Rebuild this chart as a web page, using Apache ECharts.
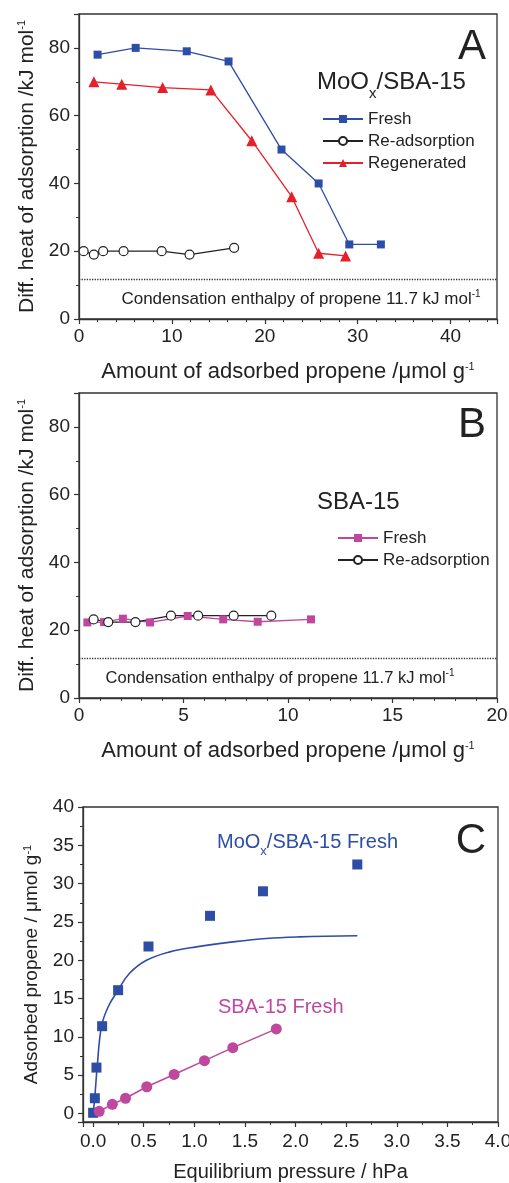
<!DOCTYPE html>
<html>
<head>
<meta charset="utf-8">
<script src="https://cdn.jsdelivr.net/npm/echarts@6/dist/echarts.min.js"></script>
<style>
html, body { margin: 0; padding: 0; background: #fff; }
#chart { width: 509px; height: 1183px; }
</style>
</head>
<body>
<div id="chart"></div>
<script>
// panel A: MoOx/SBA-15 heats of adsorption
var freshA_x = [2.0, 6.1, 11.6, 16.1, 21.8, 25.8, 29.1, 32.5];
var freshA_y = [78, 80, 79, 76, 50, 40, 22, 22];
var readsA_x = [0.5, 1.6, 2.6, 4.8, 8.9, 11.9, 16.7];
var readsA_y = [20, 19, 20, 20, 20, 19, 21];
var regenA_x = [1.6, 4.6, 9.0, 14.2, 18.6, 22.9, 25.8, 28.7];
var regenA_y = [70, 69.3, 68.3, 67.6, 52.6, 36.1, 19.4, 18.6];

// panel B: SBA-15
var freshB_x = [0.4, 1.2, 2.1, 3.4, 5.2, 6.9, 8.55, 11.1];
var freshB_y = [22.3, 22.4, 23.4, 22.3, 24.2, 23.2, 22.5, 23.2];
var readsB_x = [0.7, 1.4, 2.7, 4.4, 5.7, 7.4, 9.2];
var readsB_y = [23.2, 22.4, 22.4, 24.3, 24.3, 24.3, 24.3];

// condensation enthalpy of propene
var condH = 11.7;

// panel C: isotherms
var moC_p = [0.0, 0.017, 0.033, 0.089, 0.247, 0.547, 1.155, 1.678, 2.61];
var moC_q = [0.1, 2.0, 6.0, 11.4, 16.1, 21.8, 25.8, 29.0, 32.5];
var fitC_p = [0, 0.017, 0.04, 0.083, 0.148, 0.247, 0.36, 0.527, 0.757, 1.02, 1.38, 1.71, 2.04, 2.61];
var fitC_q = [0, 2.2, 6.1, 11.4, 13.9, 16.1, 18.3, 20.0, 21.1, 21.75, 22.4, 22.85, 23.05, 23.2];
var sbaC_p = [0.06, 0.19, 0.32, 0.53, 0.80, 1.10, 1.38, 1.81];
var sbaC_q = [0.3, 1.2, 2.0, 3.5, 5.1, 6.9, 8.6, 11.05];

var FONT = '"Liberation Sans", Arial, Helvetica, sans-serif';
var BLUE = '#2E4DA6', RED = '#E5202B', MAG = '#C0479E', INK = '#222';

function zip(xs, ys) {
    return xs.map(function (x, i) { return [x, ys[i]]; });
}

var chart = echarts.init(document.getElementById('chart'));

var axisLine = { show: true, onZero: false, lineStyle: { color: '#333', width: 1.3 } };
var axisTick = { show: true, inside: false, length: 5, lineStyle: { color: '#333', width: 1.2 } };
var minorTick = { show: true, length: 3, lineStyle: { color: '#333', width: 1 } };
var supRich = { sup: { fontSize: 11, verticalAlign: 'top', fontFamily: FONT, color: INK } };

function xAx(grid, opt) {
    return Object.assign({
        type: 'value', gridIndex: grid, splitLine: { show: false },
        axisLine: axisLine, axisTick: axisTick, minorTick: minorTick,
        axisLabel: { color: INK, fontSize: 19, fontFamily: FONT, margin: 8, showMaxLabel: false },
        nameLocation: 'middle', nameGap: 40,
        nameTextStyle: { color: INK, fontSize: 22, fontFamily: FONT, rich: supRich }
    }, opt);
}
function yAx(grid, opt) {
    return Object.assign({
        type: 'value', gridIndex: grid, splitLine: { show: false },
        axisLine: axisLine, axisTick: axisTick, minorTick: minorTick,
        axisLabel: { color: INK, fontSize: 19, fontFamily: FONT, margin: 9 },
        nameLocation: 'middle', nameGap: 38,
        nameTextStyle: { color: INK, fontSize: 21, fontFamily: FONT, rich: supRich }
    }, opt);
}

// outerBoundsMode none: keep grids exactly where the reference has them
var gridBox = { show: true, borderColor: '#333', borderWidth: 1.3, backgroundColor: 'transparent', outerBoundsMode: 'none' };

var condLine = {
    silent: true, symbol: 'none',
    lineStyle: { type: 'dotted', color: '#333', width: 1.3 },
    label: { show: false },
    data: [{ yAxis: condH }]
};

function txt(x, y, text, size, color, extra) {
    return {
        type: 'text', silent: true,
        style: Object.assign({
            x: x, y: y, text: text, fill: color || INK,
            font: size + 'px ' + FONT, verticalAlign: 'middle', align: 'left'
        }, extra || {})
    };
}

var option = {
    animation: false,
    textStyle: { fontFamily: FONT },
    grid: [
        Object.assign({ left: 79, top: 14, width: 418, height: 305 }, gridBox),
        Object.assign({ left: 79, top: 393, width: 418, height: 305 }, gridBox),
        Object.assign({ left: 83, top: 807, width: 415, height: 315 }, gridBox)
    ],
    xAxis: [
        xAx(0, { min: 0, max: 45, interval: 10, minorTick: Object.assign({ splitNumber: 5 }, minorTick),
            name: 'Amount of adsorbed propene /\u03bcmol g{sup|-1}', nameGap: 42 }),
        xAx(1, { min: 0, max: 20, interval: 5, minorTick: Object.assign({ splitNumber: 5 }, minorTick),
            axisLabel: { color: INK, fontSize: 19, fontFamily: FONT, margin: 8, showMaxLabel: true },
            name: 'Amount of adsorbed propene /\u03bcmol g{sup|-1}', nameGap: 42 }),
        xAx(2, { min: -0.1, max: 4, splitNumber: 8, minorTick: Object.assign({ splitNumber: 2 }, minorTick),
            axisLabel: { color: INK, fontSize: 19, fontFamily: FONT, margin: 10, showMinLabel: false, showMaxLabel: true,
                formatter: function (v) { return v < 0 ? '' : v.toFixed(1); } },
            name: 'Equilibrium pressure / hPa', nameGap: 40,
            nameTextStyle: { color: INK, fontSize: 20, fontFamily: FONT } })
    ],
    yAxis: [
        yAx(0, { min: 0, max: 90, interval: 20, minorTick: Object.assign({ splitNumber: 2 }, minorTick),
            axisLabel: { color: INK, fontSize: 19, fontFamily: FONT, margin: 9, showMaxLabel: false },
            name: 'Diff. heat of adsorption /kJ mol{sup|-1}' }),
        yAx(1, { min: 0, max: 90, interval: 20, minorTick: Object.assign({ splitNumber: 2 }, minorTick),
            axisLabel: { color: INK, fontSize: 19, fontFamily: FONT, margin: 9, showMaxLabel: false },
            name: 'Diff. heat of adsorption /kJ mol{sup|-1}' }),
        yAx(2, { min: -1.1, max: 40, splitNumber: 8, minorTick: Object.assign({ splitNumber: 2 }, minorTick),
            axisLabel: { color: INK, fontSize: 19, fontFamily: FONT, margin: 9, showMinLabel: false,
                formatter: function (v) { return Math.abs(v % 5) < 1e-6 ? String(v) : ''; } },
            name: 'Adsorbed propene / \u03bcmol g{sup|-1}', nameGap: 42,
            nameTextStyle: { color: INK, fontSize: 19, fontFamily: FONT, rich: supRich } })
    ],
    legend: [
        {
            left: 317, top: 105, orient: 'vertical', itemWidth: 40, itemHeight: 10, itemGap: 4,
            textStyle: { fontSize: 17, color: INK, fontFamily: FONT, lineHeight: 18 },
            data: ['A Fresh', 'A Re-adsorption', 'A Regenerated'],
            formatter: function (n) { return n.slice(2); }
        },
        {
            left: 332, top: 524, orient: 'vertical', itemWidth: 40, itemHeight: 10, itemGap: 4,
            textStyle: { fontSize: 17, color: INK, fontFamily: FONT, lineHeight: 18 },
            data: ['B Fresh', 'B Re-adsorption'],
            formatter: function (n) { return n.slice(2); }
        }
    ],
    series: [
        {
            name: 'A Re-adsorption', type: 'line', xAxisIndex: 0, yAxisIndex: 0,
            data: zip(readsA_x, readsA_y), symbol: 'circle', symbolSize: 9,
            itemStyle: { color: '#fff', borderColor: INK, borderWidth: 1.2 },
            lineStyle: { color: INK, width: 1.3 },
            markLine: condLine
        },
        {
            name: 'A Regenerated', type: 'line', xAxisIndex: 0, yAxisIndex: 0,
            data: zip(regenA_x, regenA_y), symbol: 'triangle', symbolSize: 11,
            itemStyle: { color: RED }, lineStyle: { color: RED, width: 1.3 }
        },
        {
            name: 'A Fresh', type: 'line', xAxisIndex: 0, yAxisIndex: 0,
            data: zip(freshA_x, freshA_y), symbol: 'rect', symbolSize: 8,
            itemStyle: { color: BLUE }, lineStyle: { color: BLUE, width: 1.3 }
        },
        {
            name: 'B Fresh', type: 'line', xAxisIndex: 1, yAxisIndex: 1,
            data: zip(freshB_x, freshB_y), symbol: 'rect', symbolSize: 8,
            itemStyle: { color: MAG }, lineStyle: { color: MAG, width: 1.3 },
            markLine: condLine
        },
        {
            name: 'B Re-adsorption', type: 'line', xAxisIndex: 1, yAxisIndex: 1,
            data: zip(readsB_x, readsB_y), symbol: 'circle', symbolSize: 9,
            itemStyle: { color: '#fff', borderColor: INK, borderWidth: 1.2 },
            lineStyle: { color: INK, width: 1.3 }
        },
        {
            name: 'MoOx fit', type: 'line', xAxisIndex: 2, yAxisIndex: 2,
            data: zip(fitC_p, fitC_q), showSymbol: false, smooth: 0.4,
            lineStyle: { color: BLUE, width: 1.6 }
        },
        {
            name: 'MoOx fresh', type: 'scatter', xAxisIndex: 2, yAxisIndex: 2,
            data: zip(moC_p, moC_q), symbol: 'rect', symbolSize: 10,
            itemStyle: { color: BLUE, opacity: 1 }
        },
        {
            name: 'SBA fresh', type: 'line', xAxisIndex: 2, yAxisIndex: 2,
            data: zip(sbaC_p, sbaC_q), symbol: 'circle', symbolSize: 11,
            itemStyle: { color: MAG }, lineStyle: { color: MAG, width: 1.5 }
        }
    ],
    graphic: [
        txt(472, 47, 'A', 42, INK, { align: 'center' }),
        txt(317, 82, '{m|MoO}{s|x}{m|/SBA-15}', 24, INK, {
            rich: {
                m: { fontSize: 24, lineHeight: 38, fontFamily: FONT, fill: INK },
                s: { fontSize: 15, lineHeight: 15, verticalAlign: 'bottom', fontFamily: FONT, fill: INK }
            }
        }),
        txt(301, 299, '{t|Condensation enthalpy of propene 11.7 kJ mol}{u|-1}', 17, INK, {
            align: 'center',
            rich: {
                t: { fontSize: 17, lineHeight: 20, fontFamily: FONT, fill: INK },
                u: { fontSize: 10, verticalAlign: 'top', fontFamily: FONT, fill: INK }
            }
        }),
        txt(472, 425, 'B', 42, INK, { align: 'center' }),
        txt(317, 502, 'SBA-15', 24),
        txt(280, 678, '{t|Condensation enthalpy of propene 11.7 kJ mol}{u|-1}', 16, INK, {
            align: 'center',
            rich: {
                t: { fontSize: 16.5, lineHeight: 20, fontFamily: FONT, fill: INK },
                u: { fontSize: 10, verticalAlign: 'top', fontFamily: FONT, fill: INK }
            }
        }),
        txt(471, 841, 'C', 42, INK, { align: 'center' }),
        txt(217, 842, '{m|MoO}{s|x}{m|/SBA-15 Fresh}', 20, BLUE, {
            rich: {
                m: { fontSize: 20, lineHeight: 32, fontFamily: FONT, fill: BLUE },
                s: { fontSize: 13, lineHeight: 13, verticalAlign: 'bottom', fontFamily: FONT, fill: BLUE }
            }
        }),
        txt(218, 1007, 'SBA-15 Fresh', 20, MAG)
    ]
};

chart.setOption(option);
</script>
</body>
</html>
